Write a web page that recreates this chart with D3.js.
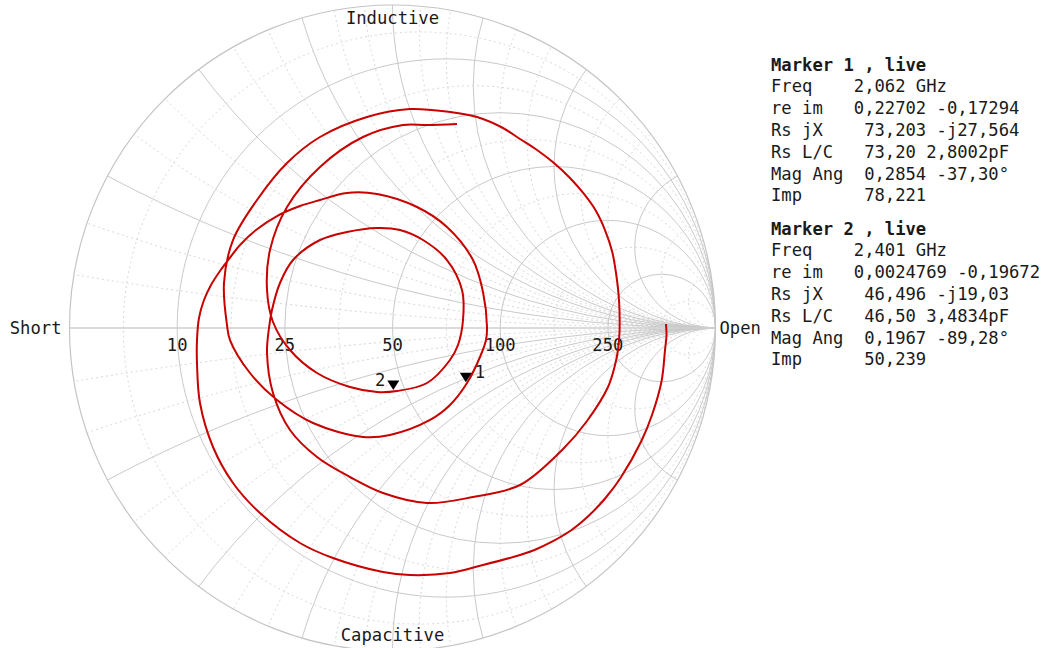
<!DOCTYPE html>
<html><head><meta charset="utf-8">
<script src="https://cdn.jsdelivr.net/npm/d3@7"></script>
<style>
body{margin:0;background:#fff;}
text{font-family:"DejaVu Sans Mono","Liberation Mono",monospace;fill:#1a1a1a;}
</style>
</head><body>
<svg id="chart" width="1046" height="648"></svg>
<script>
// ---- grid definition (normalised impedance values) ----
const majorR = [0.2, 0.5, 1, 2, 5];
const minorR = [0.0909, 0.3333, 0.7143, 1.4, 3, 11];
const majorX = [0.25, 0.5, 0.75, 1, 1.3333, 2, 4];
const minorX = [0.0833, 0.1667, 0.3333, 0.4167, 0.5833, 0.6667, 0.8333, 0.9167,
                1.0909, 1.2, 1.5, 1.7143, 2.4, 3, 6, 12];
const axisLabels = ["10", "25", "50", "100", "250"];   // ohms at r = majorR * 50
const edgeLabels = ["Short", "Open", "Inductive", "Capacitive"];

// ---- measured trace (reflection coefficient) ----
const traceRe = [
 0.8467,0.8483,0.8437,0.8331,0.8034,0.7706,0.7059,0.6594,0.6099,0.5542,0.4923,0.4396,0.3947,0.2802,0.1780,0.0542,-0.0294,-0.1842,-0.2864,-0.4102,-0.4938,-0.5557,-0.5960,-0.6053,-0.6053,
 -0.5991,-0.5836,-0.5619,-0.5341,-0.5062,-0.4721,-0.4226,-0.3576,-0.2864,-0.2245,-0.1409,-0.0480,0.0759,0.1687,0.2492,0.2802,0.2926,
 0.2895,0.2709,0.2307,0.1780,0.1161,-0.0077,-0.0913,-0.2461,-0.3576,-0.4412,-0.5031,-0.5124,
 -0.5217,-0.4938,-0.4195,-0.3266,-0.2245,-0.0789,0.0542,0.1780,0.2616,0.3421,0.3947,0.4474,0.5000,0.5495,0.5929,0.6300,0.6579,0.6796,0.6920,0.7012,0.7028,
 0.6982,0.6889,0.6672,0.6022,0.5310,0.3947,0.2492,0.1068,-0.0294,-0.1316,-0.2337,-0.3173,-0.3700,-0.3885,-0.3824,
 -0.3731,-0.3483,-0.3080,-0.2245,-0.1409,-0.0480,0.0232,0.0944,0.1687,0.2152,0.2183,
 0.2028,0.1780,0.1068,0.0139,-0.0480,-0.1316,-0.2337,-0.3173,-0.3700,
 -0.3885,-0.3793,-0.3266,-0.2245,-0.0913,0.0325,0.1068,0.1997];
const traceIm = [
 0.0124,-0.0217,-0.0681,-0.1641,-0.2693,-0.3498,-0.4644,-0.5263,-0.5789,-0.6254,-0.6625,-0.6873,-0.7028,-0.7337,-0.7585,-0.7647,-0.7554,-0.7121,-0.6656,-0.5728,-0.4799,-0.3684,-0.2322,-0.1084,-0.0372,
 0.0310,0.0867,0.1331,0.1765,0.2136,0.2570,0.3034,0.3467,0.3777,0.3963,0.4180,0.4149,0.3746,0.3127,0.2105,0.1115,0.0031,
 -0.0372,-0.0898,-0.1703,-0.2384,-0.2848,-0.3313,-0.3375,-0.2941,-0.2229,-0.1393,-0.0372,0.0093,
 0.1393,0.2724,0.3963,0.5108,0.5913,0.6533,0.6780,0.6687,0.6533,0.6192,0.5851,0.5511,0.5108,0.4644,0.4149,0.3622,0.3034,0.2384,0.1703,0.0867,-0.0124,
 -0.0681,-0.1146,-0.1827,-0.2879,-0.3715,-0.4861,-0.5232,-0.5418,-0.5108,-0.4613,-0.3994,-0.3158,-0.2012,-0.0774,0,
 0.0557,0.1393,0.2105,0.2724,0.2972,0.3096,0.3034,0.2724,0.2105,0.1176,0.0248,
 -0.0526,-0.0991,-0.1703,-0.1950,-0.1981,-0.1827,-0.1393,-0.0681,0.0186,
 0.1176,0.2415,0.3746,0.4985,0.5913,0.6285,0.6285,0.6316];

// ---- markers ----
const markerNames = ["1", "2"];
const markerRe = [0.22702, 0.0024769];
const markerIm = [-0.17294, -0.19672];
const marker1Lines = ["Marker 1 , live","Freq    2,062 GHz","re im   0,22702 -0,17294","Rs jX    73,203 -j27,564","Rs L/C   73,20 2,8002pF","Mag Ang  0,2854 -37,30°","Imp      78,221"];
const marker2Lines = ["Marker 2 , live","Freq    2,401 GHz","re im   0,0024769 -0,19672","Rs jX    46,496 -j19,03","Rs L/C   46,50 3,4834pF","Mag Ang  0,1967 -89,28°","Imp      50,239"];

// ---- layout ----
const cx = 392.5, cy = 328, R = 323;
const sx = d3.scaleLinear().domain([-1, 1]).range([cx - R, cx + R]);
const sy = d3.scaleLinear().domain([-1, 1]).range([cy + R, cy - R]);
const len = v => sx(v) - sx(0);

const svg = d3.select("#chart");
svg.append("defs").append("clipPath").attr("id", "unit")
   .append("circle").attr("cx", sx(0)).attr("cy", sy(0)).attr("r", len(1));

const grid = svg.append("g").attr("clip-path", "url(#unit)").attr("fill", "none");
const solid = "#c9c9c9", dotted = "#d6d6d6";

function rCircle(r, major) {
  grid.append("circle")
    .attr("cx", sx(r / (1 + r))).attr("cy", sy(0)).attr("r", len(1 / (1 + r)))
    .attr("stroke", major ? solid : dotted).attr("stroke-width", 1)
    .attr("stroke-dasharray", major ? null : "2,3");
}
function xCircle(x, major) {
  [1, -1].forEach(s => {
    grid.append("circle")
      .attr("cx", sx(1)).attr("cy", sy(s / x)).attr("r", len(1 / x))
      .attr("stroke", major ? solid : dotted).attr("stroke-width", 1)
      .attr("stroke-dasharray", major ? null : "2,3");
  });
}
minorR.forEach(r => rCircle(r, false));
minorX.forEach(x => xCircle(x, false));
majorR.forEach(r => rCircle(r, true));
majorX.forEach(x => xCircle(x, true));

// outer circle and real axis
svg.append("circle").attr("cx", sx(0)).attr("cy", sy(0)).attr("r", len(1))
   .attr("fill", "none").attr("stroke", "#c4c4c4").attr("stroke-width", 1.2);
svg.append("line").attr("x1", sx(-1)).attr("x2", sx(1)).attr("y1", sy(0)).attr("y2", sy(0))
   .attr("stroke", "#cfcfcf").attr("stroke-width", 1.6);

// axis labels
const FS = 17.2;
majorR.forEach((r, i) => {
  svg.append("text").attr("x", sx((r - 1) / (r + 1))).attr("y", sy(0) + 23)
     .attr("text-anchor", "middle").style("font-size", FS + "px").text(axisLabels[i]);
});
svg.append("text").attr("x", sx(-1) - 8).attr("y", sy(0) + 6).attr("text-anchor", "end")
   .style("font-size", FS + "px").text(edgeLabels[0]);
svg.append("text").attr("x", sx(1) + 4).attr("y", sy(0) + 6).attr("text-anchor", "start")
   .style("font-size", FS + "px").text(edgeLabels[1]);
svg.append("text").attr("x", sx(0)).attr("y", sy(1) + 19).attr("text-anchor", "middle")
   .style("font-size", FS + "px").text(edgeLabels[2]);
svg.append("text").attr("x", sx(0)).attr("y", sy(-1) - 10).attr("text-anchor", "middle")
   .style("font-size", FS + "px").text(edgeLabels[3]);

// trace
const pts = traceRe.map((re, i) => [re, traceIm[i]]);
svg.append("path").datum(pts)
   .attr("d", d3.line().x(d => sx(d[0])).y(d => sy(d[1])).curve(d3.curveCatmullRom.alpha(0.5)))
   .attr("fill", "none").attr("stroke", "#c80000").attr("stroke-width", 2)
   .attr("stroke-linejoin", "round");

// markers
markerNames.forEach((m, i) => {
  const px = sx(markerRe[i]), py = sy(markerIm[i]);
  svg.append("path").attr("d", `M${px - 6},${py - 11}L${px + 6},${py - 11}L${px},${py - 1.5}Z`)
     .attr("fill", "#000");
  const left = i === 1;
  svg.append("text").attr("x", left ? px - 8 : px + 9).attr("y", py - 6)
     .attr("text-anchor", left ? "end" : "start").style("font-size", FS + "px").text(m);
});

// info block
function block(lines, y0) {
  lines.forEach((t, i) => {
    svg.append("text").attr("x", 771).attr("y", y0 + i * 21.8)
       .style("font-size", FS + "px").style("white-space", "pre")
       .style("font-weight", i === 0 ? "bold" : "normal").text(t);
  });
}
block(marker1Lines, 70.5);
block(marker2Lines, 234.5);
</script>
</body></html>
